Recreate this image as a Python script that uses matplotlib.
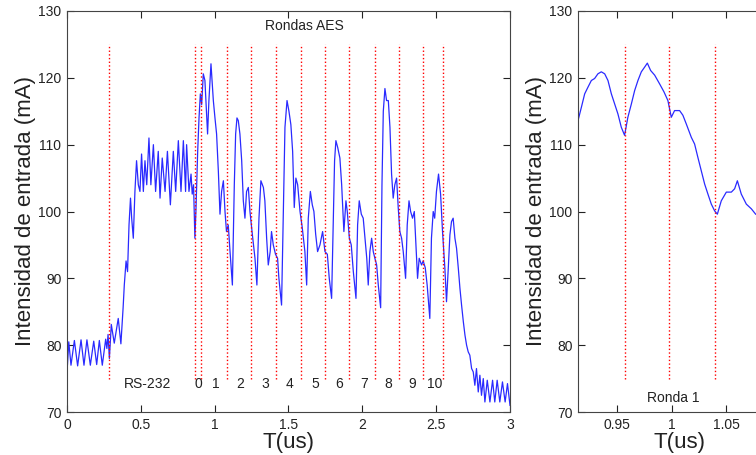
import matplotlib
matplotlib.use('Agg')
import matplotlib.pyplot as plt
from matplotlib.ticker import FormatStrFormatter

plt.rcParams['font.family'] = ['Liberation Sans', 'DejaVu Sans']

# Full trace (left panel): time in us, current in mA
t_full = [0.000, 0.003, 0.012, 0.027, 0.050, 0.072, 0.095, 0.115, 0.135, 0.158,
          0.181, 0.201, 0.219, 0.239, 0.262, 0.270, 0.278, 0.287, 0.300, 0.320,
          0.347, 0.365, 0.380, 0.388, 0.400, 0.410, 0.420, 0.430, 0.438, 0.449,
          0.460, 0.471, 0.483, 0.494, 0.505, 0.517, 0.528, 0.540, 0.555, 0.568,
          0.585, 0.600, 0.618, 0.630, 0.645, 0.664, 0.680, 0.700, 0.720, 0.736,
          0.754, 0.772, 0.788, 0.803, 0.810, 0.826, 0.840, 0.848, 0.857, 0.866,
          0.873, 0.885, 0.894, 0.903, 0.912, 0.923, 0.934, 0.952, 0.961, 0.975,
          0.991, 1.002, 1.013, 1.025, 1.036, 1.047, 1.059, 1.070, 1.080, 1.092,
          1.104, 1.120, 1.133, 1.142, 1.151, 1.160, 1.171, 1.183, 1.194, 1.205,
          1.216, 1.228, 1.239, 1.255, 1.273, 1.286, 1.300, 1.313, 1.330, 1.340,
          1.352, 1.363, 1.376, 1.385, 1.397, 1.412, 1.426, 1.435, 1.453, 1.464,
          1.476, 1.490, 1.503, 1.516, 1.528, 1.539, 1.550, 1.562, 1.578, 1.593,
          1.611, 1.623, 1.634, 1.648, 1.661, 1.672, 1.684, 1.697, 1.713, 1.731,
          1.747, 1.763, 1.776, 1.792, 1.803, 1.812, 1.821, 1.833, 1.848, 1.860,
          1.875, 1.889, 1.898, 1.912, 1.925, 1.939, 1.957, 1.968, 1.979, 1.993,
          2.006, 2.018, 2.030, 2.040, 2.051, 2.063, 2.074, 2.085, 2.097, 2.108,
          2.124, 2.133, 2.142, 2.153, 2.164, 2.176, 2.187, 2.198, 2.209, 2.220,
          2.232, 2.243, 2.254, 2.266, 2.277, 2.293, 2.304, 2.316, 2.327, 2.340,
          2.352, 2.363, 2.374, 2.385, 2.401, 2.412, 2.426, 2.439, 2.457, 2.468,
          2.480, 2.490, 2.502, 2.516, 2.530, 2.543, 2.559, 2.570, 2.582, 2.593,
          2.604, 2.615, 2.627, 2.638, 2.650, 2.661, 2.672, 2.684, 2.695, 2.706,
          2.717, 2.728, 2.740, 2.751, 2.762, 2.773, 2.785, 2.796, 2.807, 2.819,
          2.830, 2.846, 2.864, 2.882, 2.897, 2.913, 2.931, 2.949, 2.967, 2.983,
          3.000]
i_full = [80.4, 77.0, 80.5, 77.0, 80.7, 76.9, 80.8, 77.0, 80.8, 77.0,
          80.6, 77.1, 80.7, 77.0, 80.9, 79.5, 81.6, 78.0, 83.1, 80.3,
          84.0, 80.2, 85.6, 89.0, 92.6, 91.0, 98.0, 102.0, 99.0, 96.0,
          103.0, 107.6, 104.0, 103.0, 108.6, 103.0, 107.6, 104.0, 111.0, 104.0,
          110.0, 103.0, 109.0, 102.0, 108.0, 103.0, 109.0, 101.0, 109.0, 103.0,
          110.6, 103.0, 110.6, 103.0, 110.0, 103.0, 105.6, 102.6, 104.0, 96.0,
          100.0, 109.0, 114.0, 117.6, 116.0, 120.6, 119.6, 111.6, 116.6, 122.1,
          116.6, 114.0, 111.6, 106.0, 99.6, 103.0, 104.6, 100.0, 97.0, 98.0,
          94.0, 89.0, 104.0, 111.6, 114.0, 113.6, 111.6, 107.6, 101.6, 99.0,
          103.0, 103.6, 100.0, 96.6, 93.0, 89.0, 99.0, 104.6, 103.6, 101.6,
          96.0, 92.0, 94.0, 97.0, 95.0, 93.6, 93.0, 90.0, 86.0, 99.0,
          112.6, 116.6, 115.0, 113.0, 109.0, 100.6, 105.0, 104.0, 100.0, 97.6,
          94.0, 89.0, 99.0, 103.0, 101.0, 100.0, 96.6, 94.0, 95.0, 97.0,
          94.0, 93.6, 90.0, 87.0, 98.0, 107.6, 110.6, 109.6, 108.0, 104.0,
          97.0, 101.6, 100.0, 96.0, 95.0, 91.0, 87.0, 98.0, 101.6, 99.6,
          99.0, 96.0, 93.0, 89.0, 94.0, 96.0, 94.0, 93.0, 92.0, 89.0,
          85.6, 104.0, 115.0, 118.4, 116.6, 116.6, 112.6, 105.6, 102.0, 104.0,
          105.0, 100.6, 97.0, 96.0, 94.0, 90.0, 98.0, 101.6, 100.0, 99.0,
          100.0, 95.0, 90.0, 93.0, 92.0, 92.6, 91.6, 89.0, 84.0, 96.0,
          100.0, 99.0, 103.0, 105.6, 102.6, 97.0, 91.5, 86.5, 91.5, 96.5,
          98.5, 99.0, 96.0, 94.5, 91.5, 88.5, 86.0, 83.5, 81.5, 80.0,
          79.0, 78.5, 76.5, 76.0, 74.0, 76.5, 73.0, 75.5, 72.5, 75.0,
          71.5, 74.75, 71.5, 74.75, 71.5, 74.75, 71.5, 74.5, 71.5, 74.25,
          71.0]

# Zoomed trace (right panel, round 1)
t_zoom = [0.9144, 0.9175, 0.9205, 0.9235, 0.9266, 0.9296, 0.9326, 0.9357, 0.9388,
          0.9418, 0.9449, 0.9479, 0.9509, 0.9540, 0.9570, 0.9600, 0.9632, 0.9662,
          0.9692, 0.9723, 0.9753, 0.9778, 0.9808, 0.9845, 0.9890, 0.9930, 0.9966,
          0.9997, 1.0027, 1.0073, 1.0103, 1.0134, 1.0180, 1.0210, 1.0240, 1.0271,
          1.0302, 1.0332, 1.0363, 1.0393, 1.0418, 1.0454, 1.0500, 1.0546, 1.0576,
          1.0601, 1.0637, 1.0683, 1.0729, 1.0768]
i_zoom = [113.6, 115.6, 117.6, 118.6, 119.6, 119.9, 120.6, 120.9, 120.6,
          119.6, 117.6, 116.1, 114.6, 112.6, 111.4, 114.1, 116.1, 118.1,
          119.6, 120.9, 121.6, 122.2, 121.1, 120.4, 119.1, 117.9, 116.6,
          114.1, 115.1, 115.1, 114.4, 113.1, 111.1, 110.1, 108.1, 106.1,
          104.1, 102.6, 101.1, 100.1, 99.6, 101.6, 102.9, 102.9, 103.4,
          104.6, 102.6, 101.1, 100.4, 99.6]

# Round boundaries (red dotted markers)
bounds_full = [0.284, 0.869, 0.910, 1.081, 1.246, 1.413, 1.583, 1.747,
               1.913, 2.083, 2.248, 2.413, 2.544]
bounds_zoom = [0.957, 0.998, 1.040]

# Round labels
round_names = ['RS-232', '0', '1', '2', '3', '4', '5', '6', '7', '8', '9', '10']
round_pos = [0.545, 0.891, 1.009, 1.176, 1.341, 1.510, 1.679, 1.844,
             2.013, 2.176, 2.340, 2.490]

line_col = '#2a2aff'
ink = '#222222'


def style(ax):
    ax.tick_params(direction='in', top=True, right=True, length=5, width=0.8,
                   labelsize=10, pad=4, colors=ink)
    for s in ax.spines.values():
        s.set_color('#444444')
        s.set_linewidth(0.8)
    ax.set_ylim(70, 130)
    ax.set_yticks(range(70, 131, 10))
    ax.xaxis.set_major_formatter(FormatStrFormatter('%g'))
    ax.set_xlabel('T(us)', fontsize=16, color=ink, labelpad=0)
    ax.set_ylabel('Intensidad de entrada (mA)', fontsize=16, color=ink)


fig = plt.figure(figsize=(7.56, 4.55), dpi=100)

ax1 = fig.add_axes([67 / 756, 43 / 455, 443 / 756, 401 / 455])
ax1.plot(t_full, i_full, color=line_col, linewidth=0.9)
ax1.vlines(bounds_full, 75, 125, colors='red', linestyles=':', linewidth=1.0)
ax1.set_xlim(0, 3)
ax1.set_xticks([0, 0.5, 1, 1.5, 2, 2.5, 3])
style(ax1)
ax1.yaxis.set_label_coords(-0.07, 0.5)
for name, x in zip(round_names, round_pos):
    ax1.text(x, 74.2, name, ha='center', va='center', fontsize=10, color=ink)
ax1.text(1.605, 127.8, 'Rondas AES', ha='center', va='center', fontsize=10, color=ink)

# right panel runs past the figure edge, as in the cropped original
ax2 = fig.add_axes([578 / 756, 43 / 455, 203 / 756, 401 / 455])
ax2.plot(t_zoom, i_zoom, color=line_col, linewidth=0.9)
ax2.vlines(bounds_zoom, 75, 125, colors='red', linestyles=':', linewidth=1.0)
ax2.set_xlim(0.9144, 1.10)
ax2.set_xticks([0.95, 1, 1.05])
style(ax2)
ax2.yaxis.set_label_coords(-0.153, 0.5)
ax2.text(1.0018, 72.05, 'Ronda 1', ha='center', va='center', fontsize=10, color=ink)

fig.savefig('out.png', dpi=100)
